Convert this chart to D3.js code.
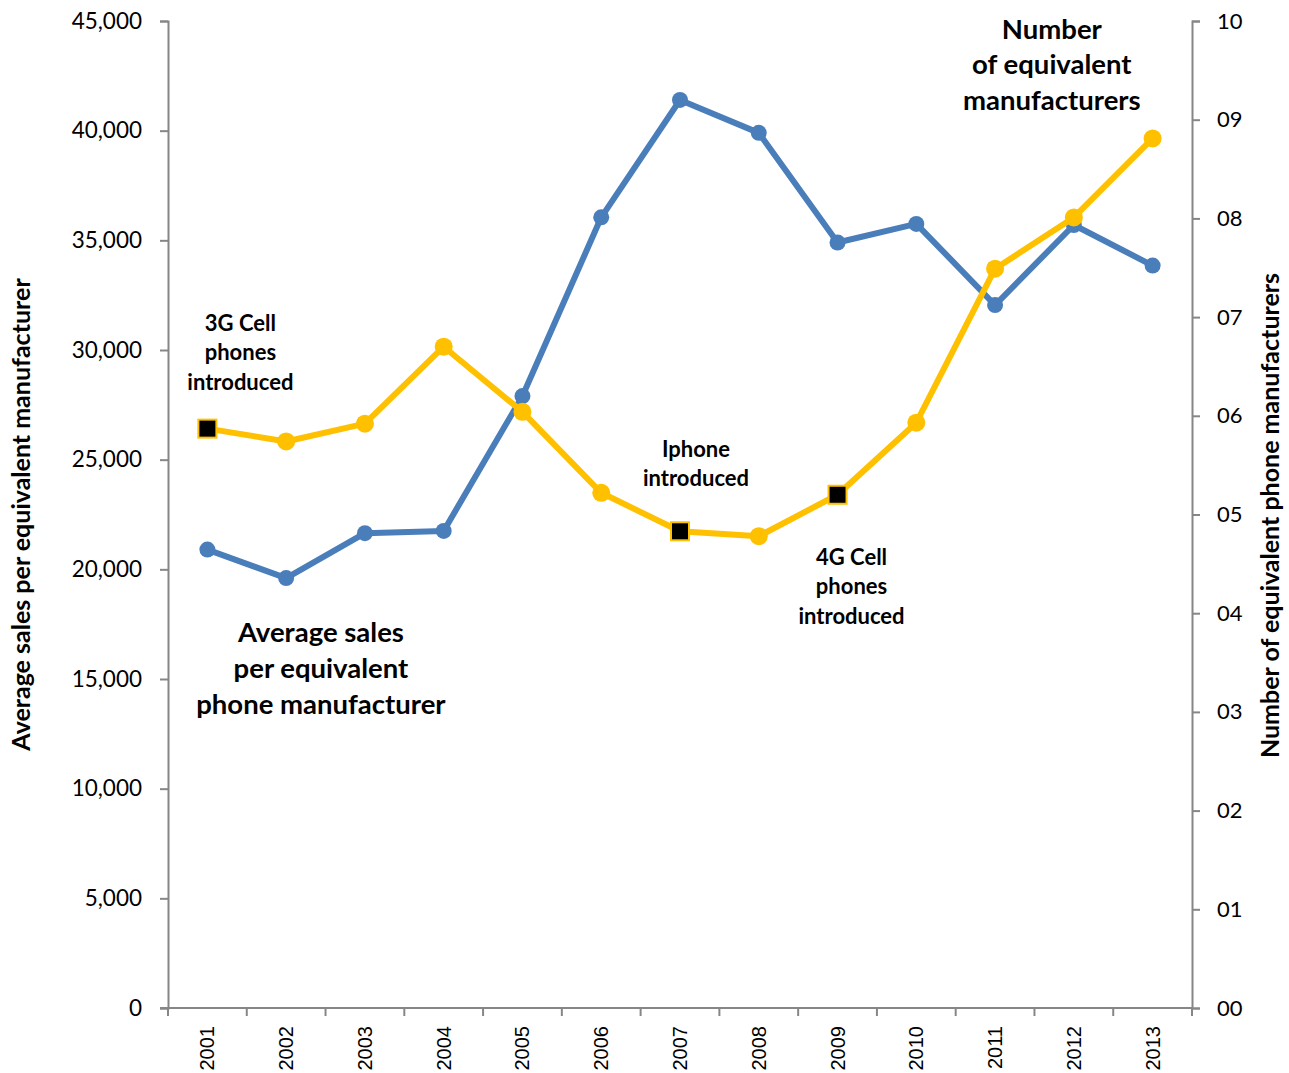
<!DOCTYPE html>
<html>
<head>
<meta charset="utf-8">
<script src="https://cdn.jsdelivr.net/npm/d3@7"></script>
<style>
body { margin: 0; background: #fff; }
svg { display: block; }
</style>
</head>
<body>
<div id="chart"></div>
<script>
const years = ["2001","2002","2003","2004","2005","2006","2007","2008","2009","2010","2011","2012","2013"];
const avgSales = [20900, 19600, 21650, 21750, 27900, 36050, 41400, 39900, 34900, 35750, 32050, 35700, 33850];
const manufacturers = [5.87, 5.74, 5.92, 6.70, 6.04, 5.22, 4.83, 4.78, 5.20, 5.93, 7.49, 8.01, 8.81];
const squareYears = ["2001", "2007", "2009"];
const leftTicks = [0, 5000, 10000, 15000, 20000, 25000, 30000, 35000, 40000, 45000];
const rightTicks = [0,1,2,3,4,5,6,7,8,9,10];
const annotations = [
  { lines: ["3G Cell", "phones", "introduced"], x: "2001", dx: 33, y: 322, size: 22, gap: 29.5 },
  { lines: ["Iphone", "introduced"], x: "2007", dx: 16, y: 448, size: 22, gap: 29 },
  { lines: ["4G Cell", "phones", "introduced"], x: "2009", dx: 14, y: 556, size: 22, gap: 29.5 },
  { lines: ["Average sales", "per equivalent", "phone manufacturer"], x: "2003", dx: -44, y: 631, size: 27.5, gap: 36 },
  { lines: ["Number", "of equivalent", "manufacturers"], x: "2012", dx: -22, y: 28, size: 27.5, gap: 35.5 }
];

const W = 1289, H = 1073;
const m = { left: 168, right: 97, top: 21, bottom: 65 };
const svg = d3.select("#chart").append("svg").attr("width", W).attr("height", H);

const x = d3.scaleBand().domain(years).range([m.left, W - m.right]);
const yL = d3.scaleLinear().domain([0, 45000]).range([H - m.bottom, m.top]);
const yR = d3.scaleLinear().domain([0, 10]).range([H - m.bottom, m.top]);
const cx = d => x(d) + x.bandwidth() / 2;

const axisColor = "#868686";
const tickFont = "Lato, 'Open Sans', sans-serif";

// left axis
const gL = svg.append("g").attr("transform", `translate(${m.left},0)`)
  .call(d3.axisLeft(yL).tickValues(leftTicks).tickSize(8).tickPadding(18).tickFormat(d3.format(",")));
gL.select(".domain").attr("stroke", axisColor).attr("stroke-width", 2);
gL.selectAll(".tick line").attr("stroke", axisColor).attr("stroke-width", 2);
gL.selectAll(".tick text").attr("font-family", tickFont).attr("font-size", 22.5).attr("fill", "#000");

// right axis
const gR = svg.append("g").attr("transform", `translate(${W - m.right},0)`)
  .call(d3.axisRight(yR).tickValues(rightTicks).tickSize(8).tickPadding(17).tickFormat(d3.format("02d")));
gR.select(".domain").attr("stroke", axisColor).attr("stroke-width", 2);
gR.selectAll(".tick line").attr("stroke", axisColor).attr("stroke-width", 2);
gR.selectAll(".tick text").attr("font-family", tickFont).attr("font-size", 22).attr("fill", "#000");

// bottom axis
const gB = svg.append("g").attr("transform", `translate(0,${H - m.bottom})`);
gB.append("line").attr("x1", m.left - 8).attr("x2", W - m.right).attr("y1", 0).attr("y2", 0)
  .attr("stroke", axisColor).attr("stroke-width", 2);
const bounds = years.map(d => x(d)).concat([x(years[years.length - 1]) + x.bandwidth()]);
gB.selectAll(".btick").data(bounds).join("line")
  .attr("x1", d => d).attr("x2", d => d).attr("y1", 0).attr("y2", 8)
  .attr("stroke", axisColor).attr("stroke-width", 2);
gB.selectAll(".ylab").data(years).join("text")
  .attr("transform", d => `translate(${cx(d) + 7},${18}) rotate(-90)`)
  .attr("text-anchor", "end")
  .attr("font-family", "'Liberation Sans', Arial, sans-serif")
  .attr("font-size", 20)
  .attr("fill", "#000")
  .text(d => d);

// axis titles
svg.append("text")
  .attr("transform", `translate(30,${(m.top + H - m.bottom) / 2}) rotate(-90)`)
  .attr("text-anchor", "middle")
  .attr("font-family", tickFont).attr("font-weight", "bold").attr("font-size", 25)
  .text("Average sales per equivalent manufacturer");
svg.append("text")
  .attr("transform", `translate(1279,${(m.top + H - m.bottom) / 2 + 1}) rotate(-90)`)
  .attr("text-anchor", "middle")
  .attr("font-family", tickFont).attr("font-weight", "bold").attr("font-size", 25)
  .text("Number of equivalent phone manufacturers");

// blue line
const blue = "#4A7EBB";
const orange = "#FFC000";
const lineL = d3.line().x((d, i) => cx(years[i])).y(d => yL(d));
svg.append("path").datum(avgSales).attr("d", lineL)
  .attr("fill", "none").attr("stroke", blue).attr("stroke-width", 6).attr("stroke-linejoin", "round");
svg.selectAll(".bdot").data(avgSales).join("circle")
  .attr("cx", (d, i) => cx(years[i])).attr("cy", d => yL(d)).attr("r", 8).attr("fill", blue);

// orange line
const lineR = d3.line().x((d, i) => cx(years[i])).y(d => yR(d));
svg.append("path").datum(manufacturers).attr("d", lineR)
  .attr("fill", "none").attr("stroke", orange).attr("stroke-width", 6).attr("stroke-linejoin", "round");
const pts = manufacturers.map((v, i) => ({ year: years[i], v }));
svg.selectAll(".odot").data(pts.filter(p => !squareYears.includes(p.year))).join("circle")
  .attr("cx", d => cx(d.year)).attr("cy", d => yR(d.v)).attr("r", 9).attr("fill", orange);
svg.selectAll(".osq").data(pts.filter(p => squareYears.includes(p.year))).join("rect")
  .attr("x", d => cx(d.year) - 9).attr("y", d => yR(d.v) - 9).attr("width", 18).attr("height", 18)
  .attr("fill", "#000").attr("stroke", orange).attr("stroke-width", 2);

// annotations
annotations.forEach(a => {
  const t = svg.append("text")
    .attr("text-anchor", "middle")
    .attr("font-family", tickFont).attr("font-weight", "bold").attr("font-size", a.size)
    .attr("fill", "#000");
  a.lines.forEach((ln, i) => {
    t.append("tspan").attr("x", cx(a.x) + a.dx).attr("y", a.y + i * a.gap).attr("dominant-baseline", "central").text(ln);
  });
});
</script>
</body>
</html>
